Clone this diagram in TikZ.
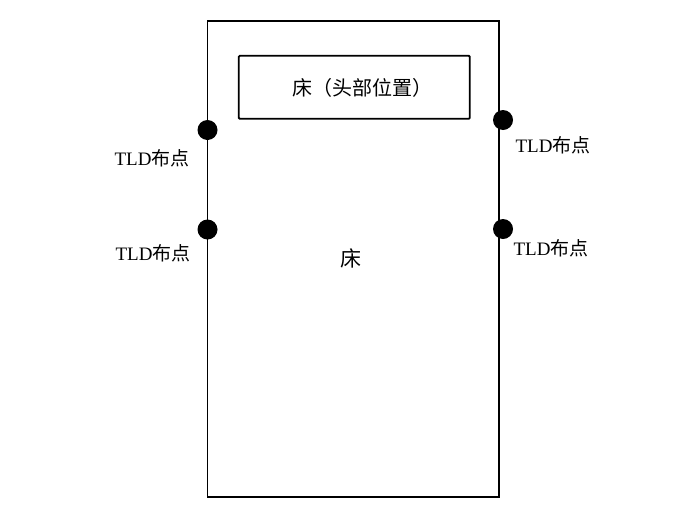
\documentclass[tikz,border=0pt]{standalone}
\usepackage{fontspec}
\setmainfont{Liberation Serif}
\newfontfamily\cjk{Noto Sans CJK SC}
\begin{document}
\begin{tikzpicture}[x=1pt,y=-1pt,
  box/.style={draw=black,line width=1.8pt,inner sep=0pt},
  tld/.style={circle,fill=black,minimum size=20pt,inner sep=0pt},
  lbl/.style={font=\fontsize{19}{19}\selectfont,inner sep=0pt,anchor=center},
  bedtxt/.style={font=\cjk\fontsize{20}{20}\selectfont,inner sep=0pt}]
\useasboundingbox (0,0) rectangle (700,525);
\draw[line width=1.8pt] (207.5,21) rectangle (499,497);
\node[box,rounded corners=1pt,minimum width=231pt,minimum height=63pt] (head) at (354.3,87.3) {};
\node[bedtxt] (headtxt) at (362,88) {床（头部位置）};
\node[bedtxt,font=\cjk\fontsize{21}{21}\selectfont] (bed) at (351,258) {床};
\node[tld] (d1) at (207.5,130) {};
\node[tld] (d2) at (207.5,229.5) {};
\node[tld] (d3) at (503,120) {};
\node[tld] (d4) at (503,229) {};
\node[lbl] (l1) at (152,158) {TLD{\cjk 布点}};
\node[lbl] (l2) at (153,253) {TLD{\cjk 布点}};
\node[lbl] (l3) at (553,145) {TLD{\cjk 布点}};
\node[lbl] (l4) at (551,248) {TLD{\cjk 布点}};
\end{tikzpicture}
\end{document}
